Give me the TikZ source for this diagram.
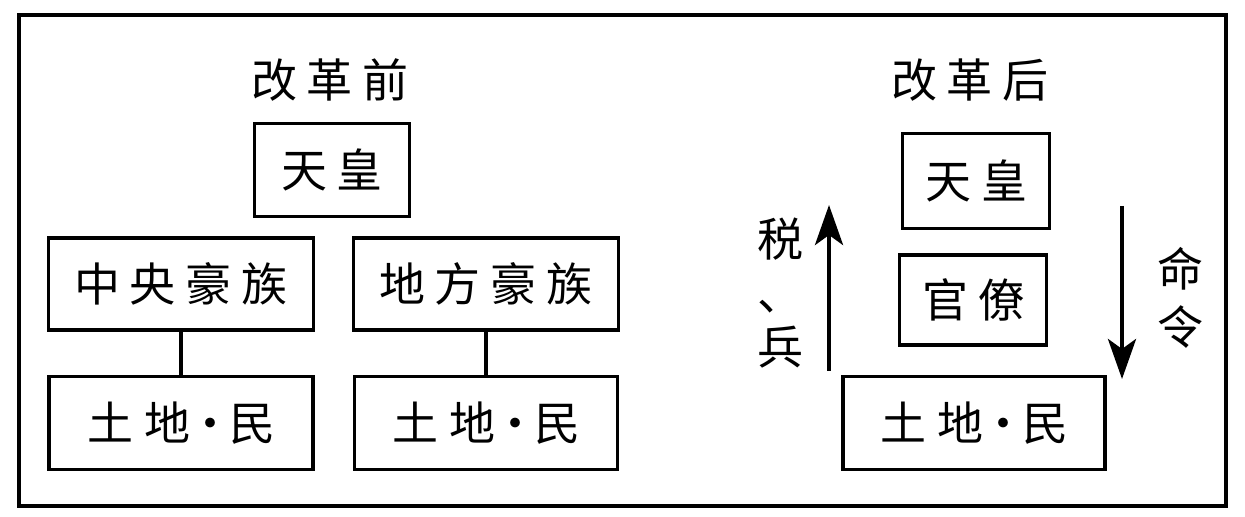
\documentclass[tikz,border=0pt]{standalone}
\usepackage{fontspec}
\newfontfamily\cjk{Noto Sans CJK SC}
\usetikzlibrary{arrows.meta}

\newcommand{\gap}{\hspace{5pt}}
\newcommand{\middot}{\hspace{-2pt}•\hspace{-2pt}}

\begin{document}
\begin{tikzpicture}[x=0.5pt,y=-0.5pt]
\tikzset{mainline/.style={line width=1.6pt,color=black}};
\tikzset{box/.style={mainline,draw,inner sep=0pt,font=\cjk\fontsize{23}{23}\selectfont}};
\tikzset{label/.style={inner sep=0pt,font=\cjk\fontsize{23}{23}\selectfont}};

\useasboundingbox (0,0) rectangle (1245,517);

% frame
\draw [line width=2pt] (19,15) rectangle (1226,506);

% before
\node [label] (title_1) at (330,80) {改\gap 革\gap 前};
\node [box,minimum width=77.5pt,minimum height=46.5pt] (emp_1) at (332,170) {天\gap 皇};
\node [box,minimum width=132.5pt,minimum height=46pt] (cen) at (181,284) {中\gap 央\gap 豪\gap 族};
\node [box,minimum width=132.5pt,minimum height=46pt] (loc) at (486,284) {地\gap 方\gap 豪\gap 族};
\node [box,minimum width=132pt,minimum height=46.5pt] (land_1) at (181,423) {土\hspace{6pt}地\middot 民};
\node [box,minimum width=131.5pt,minimum height=46.5pt] (land_2) at (486,423) {土\hspace{6pt}地\middot 民};
\draw [mainline] (cen) -- (land_1);
\draw [mainline] (loc) -- (land_2);

% after
\node [label] (title_2) at (970,80) {改\gap 革\gap 后};
\node [box,minimum width=73.5pt,minimum height=47.5pt] (emp_2) at (976,181) {天\gap 皇};
\node [box,minimum width=73.5pt,minimum height=45pt] (off) at (973,300) {官\gap 僚};
\node [box,minimum width=131pt,minimum height=46.5pt] (land_3) at (974,423) {土\hspace{6pt}地\middot 民};

\coordinate (up_a) at (829,371);
\coordinate (up_b) at (829,205);
\coordinate (dn_a) at (1122,206);
\coordinate (dn_b) at (1122,379);
\draw [line width=2.2pt,-{Stealth[length=20pt,width=14pt,inset=5pt]}] (up_a) -- (up_b);
\draw [line width=2.2pt,-{Stealth[length=20pt,width=14pt,inset=5pt]}] (dn_a) -- (dn_b);

\node [label,align=center] (tax) at (780,293) {税\\[4pt]、\\[4pt]兵};
\node [label,align=center] (order) at (1180,298) {命\\[6pt]令};
\end{tikzpicture}
\end{document}
